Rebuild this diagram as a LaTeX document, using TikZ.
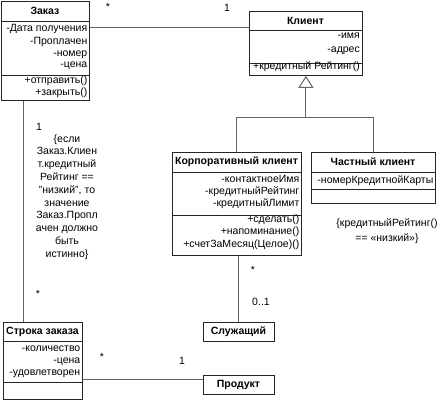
\documentclass[tikz,border=0pt]{standalone}
\usepackage{fontspec}
\setmainfont{Liberation Sans}
\usetikzlibrary{arrows.meta}
\newcommand\fs{\fontsize{10.5}{12}\selectfont}
\begin{document}
\begin{tikzpicture}[x=1pt,y=-1pt,
  box/.style={draw=black!85, line width=0.8pt, inner sep=0pt, anchor=north west},
  sepline/.style={draw=black!85, line width=0.8pt},
  cname/.style={font=\fs\bfseries, inner sep=0pt},
  attr/.style={font=\fs, inner sep=0pt, anchor=east, text height=7.5pt, text depth=2pt},
  conn/.style={draw=black!60, line width=1pt},
  mult/.style={font=\fs, inner sep=0pt},
  note/.style={font=\fontsize{10.5}{12.8}\selectfont, inner sep=0pt, align=center}
]
\useasboundingbox (0,0) rectangle (443,400);

% boxes
\node[box, minimum width=88pt, minimum height=99pt] (zakaz) at (1,1) {};
\node[box, minimum width=113pt, minimum height=64pt] (klient) at (249,11) {};
\node[box, minimum width=129pt, minimum height=103pt] (corp) at (172,152) {};
\node[box, minimum width=124pt, minimum height=51pt] (chast) at (311,152) {};
\node[box, minimum width=71pt, minimum height=19pt] (sluzh) at (203,322) {};
\node[box, minimum width=79pt, minimum height=76.5pt] (stroka) at (3,322) {};
\node[box, minimum width=71pt, minimum height=19pt] (prod) at (203,375) {};

% compartments
\draw[sepline] (zakaz.west |- 0,21) -- (zakaz.east |- 0,21);
\draw[sepline] (zakaz.west |- 0,75) -- (zakaz.east |- 0,75);
\draw[sepline] (klient.west |- 0,30) -- (klient.east |- 0,30);
\draw[sepline] (klient.west |- 0,63) -- (klient.east |- 0,63);
\draw[sepline] (corp.west |- 0,172) -- (corp.east |- 0,172);
\draw[sepline] (corp.west |- 0,215) -- (corp.east |- 0,215);
\draw[sepline] (chast.west |- 0,172) -- (chast.east |- 0,172);
\draw[sepline] (chast.west |- 0,189) -- (chast.east |- 0,189);
\draw[sepline] (stroka.west |- 0,341) -- (stroka.east |- 0,341);
\draw[sepline] (stroka.west |- 0,382) -- (stroka.east |- 0,382);

% titles
\node[cname] (tzakaz) at (45,11) {Заказ};
\node[cname] (tklient) at (305.5,20.5) {Клиент};
\node[cname] (tcorp) at (236.5,162) {Корпоративный клиент};
\node[cname] (tchast) at (373,162) {Частный клиент};
\node[cname] (tsluzh) at (238.5,331.5) {Служащий};
\node[cname] (tstroka) at (42.5,331.5) {Строка заказа};
\node[cname] (tprod) at (238.5,384.5) {Продукт};

% attributes / operations
\node[attr] (z1) at (87.5,29) {-Дата получения};
\node[attr] (z2) at (87.5,41.5) {-Проплачен};
\node[attr] (z3) at (87.5,53.5) {-номер};
\node[attr] (z4) at (87.5,65) {-цена};
\node[attr] (z5) at (87.5,81) {+отправить()};
\node[attr] (z6) at (87.5,93) {+закрыть()};

\node[attr] (k1) at (360,36) {-имя};
\node[attr] (k2) at (360,49.5) {-адрес};
\node[attr] (k3) at (360,67) {+кредитный Рейтинг()};

\node[attr] (c1) at (299.5,179.5) {-контактноеИмя};
\node[attr] (c2) at (299.5,191.5) {-кредитныйРейтинг};
\node[attr] (c3) at (299.5,203.5) {-кредитныйЛимит};
\node[attr] (c4) at (299.5,220) {+сделать()};
\node[attr] (c5) at (299.5,232) {+напоминание()};
\node[attr] (c6) at (299.5,245) {+счетЗаМесяц(Целое)()};

\node[attr] (h1) at (433.5,181) {-номерКредитнойКарты};

\node[attr] (s1) at (80.5,349) {-количество};
\node[attr] (s2) at (80.5,361) {-цена};
\node[attr] (s3) at (80.5,373) {-удовлетворен};

% connectors
\draw[conn] (zakaz.east |- 0,27) -- (klient.west |- 0,27);
\draw[conn, -{Triangle[open, length=12pt, width=15pt]}] (corp.north) |- (klient.south |- 0,117) -- (klient.south);
\draw[conn] (chast.north) |- (klient.south |- 0,117);
\draw[conn] ([xshift=22pt]zakaz.south west) -- ([xshift=20pt]stroka.north west);
\draw[conn] (corp.south -| sluzh.north) -- (sluzh.north);
\draw[conn] (stroka.east |- 0,379) -- (prod.west |- 0,379);

% multiplicities
\node[mult] (m1) at (108,7) {*};
\node[mult] (m2) at (227,8) {1};
\node[mult] (m3) at (39,127) {1};
\node[mult] (m4) at (38,294) {*};
\node[mult] (m5) at (253,270) {*};
\node[mult] (m6) at (261,302) {0..1};
\node[mult] (m7) at (102,357) {*};
\node[mult] (m8) at (182,361) {1};

% constraints
\node[note] (n1) at (67,197) {\{если\\Заказ.Клиен\\т.кредитный\\Рейтинг ==\\"низкий", то\\значение\\Заказ.Пропл\\ачен должно\\быть\\истинно\}};
\node[note, font=\fontsize{10.5}{15}\selectfont] (n2) at (387,231) {\{кредитныйРейтинг()\\== «низкий»\}};
\end{tikzpicture}
\end{document}
